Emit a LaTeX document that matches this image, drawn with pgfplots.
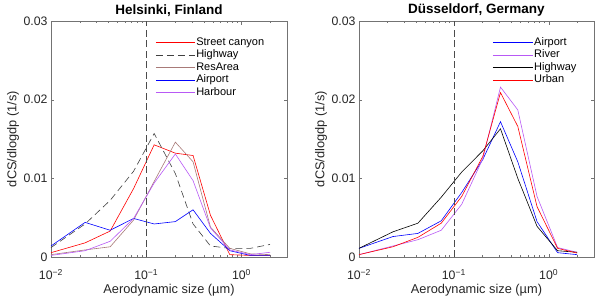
\documentclass[border=0pt]{standalone}
\usepackage{fontspec}
\setmainfont{Liberation Sans}
\usepackage{pgfplots}
\pgfplotsset{compat=1.18}
\definecolor{resbrown}{rgb}{0.66,0.48,0.47}
\definecolor{harb}{rgb}{0.72,0.35,0.96}
\definecolor{axgray}{rgb}{0.45,0.45,0.45}
\begin{document}
\begin{tikzpicture}
\begin{axis}[at={(0pt,0pt)}, anchor=south west, title={Helsinki, Finland},
 scale only axis, width=236pt, height=236pt,
 xmode=log, xmin=0.01, xmax=3, ymin=0, ymax=0.03, scaled y ticks=false,
 xtick={0.01,0.1,1}, xticklabels={10\textsuperscript{−2},10\textsuperscript{−1},10\textsuperscript{0}},
 minor xtick={0.02,0.03,0.04,0.05,0.06,0.07,0.08,0.09,0.2,0.3,0.4,0.5,0.6,0.7,0.8,0.9,2,3},
 ytick={0,0.01,0.02,0.03}, yticklabels={0,0.01,0.02,0.03},
 tick align=inside, major tick length=3.5pt, minor tick length=2pt,
 axis line style={axgray}, tick style={axgray},
 ticklabel style={font=\fontsize{12.3}{14}\selectfont, text=black!85},
 xticklabel style={yshift=-9pt},
 label style={font=\fontsize{12.8}{15}\selectfont, text=black!85},
 title style={font=\bfseries\fontsize{13.5}{16}\selectfont, yshift=-5pt},
 xlabel={Aerodynamic size (µm)}, ylabel={dCS/dlogdp (1/s)},
 xlabel style={at={([yshift=-33pt]axis description cs:0.5,0)}, anchor=center},
 ylabel style={at={([xshift=-38pt]axis description cs:0,0.5)}, anchor=center},
 legend style={draw=none, fill=none, font=\fontsize{11}{13}\selectfont, anchor=north west,
   nodes={inner sep=1pt, text height=8pt, text depth=2.5pt}, at={(rel axis cs:0.43,0.945)}},
 legend cell align=left,
 legend image code/.code={\draw[#1] (0pt,0pt) -- (39pt,0pt);},
 every axis plot/.append style={line width=0.6pt, mark=none}]
\addplot[red] coordinates {(0.01,0.00055) (0.0228,0.0018) (0.0418,0.0033) (0.0736,0.0087) (0.121,0.01426) (0.202,0.0132) (0.31,0.0129) (0.472,0.0053) (0.753,0.0003) (1.24,0.0002) (1.99,0.0002)};
\addlegendentry{Street canyon}
\addplot[black!75, dash pattern=on 7pt off 4pt] coordinates {(0.01,0.0012) (0.0228,0.0042) (0.0418,0.0072) (0.0736,0.0109) (0.121,0.0157) (0.202,0.0106) (0.31,0.0042) (0.472,0.0014) (0.753,0.0011) (1.24,0.0011) (1.99,0.0016)};
\addlegendentry{Highway}
\addplot[resbrown] coordinates {(0.01,0.0003) (0.0228,0.0009) (0.0418,0.0013) (0.0736,0.0047) (0.121,0.0096) (0.202,0.0146) (0.31,0.0121) (0.472,0.0038) (0.753,0.0011) (1.24,0.0004) (1.99,0.0003)};
\addlegendentry{ResArea}
\addplot[blue] coordinates {(0.01,0.0014) (0.0228,0.0044) (0.0418,0.0034) (0.0736,0.0049) (0.121,0.0042) (0.202,0.0045) (0.31,0.0060) (0.472,0.0030) (0.753,0.0008) (1.24,0.0002) (1.99,0.0002)};
\addlegendentry{Airport}
\addplot[harb] coordinates {(0.01,0.0002) (0.0228,0.0008) (0.0418,0.0020) (0.0736,0.0049) (0.121,0.0094) (0.202,0.0131) (0.31,0.0097) (0.472,0.0037) (0.753,0.0009) (1.24,0.0003) (1.99,0.0006)};
\addlegendentry{Harbour}
\addplot[black!70, dash pattern=on 7pt off 3.5pt, forget plot] coordinates {(0.1,0) (0.1,0.03)};
\end{axis}
\begin{axis}[at={(308pt,0pt)}, anchor=south west, title={Düsseldorf, Germany},
 scale only axis, width=235pt, height=236pt,
 xmode=log, xmin=0.01, xmax=3, ymin=0, ymax=0.03, scaled y ticks=false,
 xtick={0.01,0.1,1}, xticklabels={10\textsuperscript{−2},10\textsuperscript{−1},10\textsuperscript{0}},
 minor xtick={0.02,0.03,0.04,0.05,0.06,0.07,0.08,0.09,0.2,0.3,0.4,0.5,0.6,0.7,0.8,0.9,2,3},
 ytick={0,0.01,0.02,0.03}, yticklabels={0,0.01,0.02,0.03},
 tick align=inside, major tick length=3.5pt, minor tick length=2pt,
 axis line style={axgray}, tick style={axgray},
 ticklabel style={font=\fontsize{12.3}{14}\selectfont, text=black!85},
 xticklabel style={yshift=-9pt},
 label style={font=\fontsize{12.8}{15}\selectfont, text=black!85},
 title style={font=\bfseries\fontsize{13.5}{16}\selectfont, yshift=-5pt},
 xlabel={Aerodynamic size (µm)}, ylabel={dCS/dlogdp (1/s)},
 xlabel style={at={([yshift=-33pt]axis description cs:0.5,0)}, anchor=center},
 ylabel style={at={([xshift=-38pt]axis description cs:0,0.5)}, anchor=center},
 legend style={draw=none, fill=none, font=\fontsize{11}{13}\selectfont, anchor=north west,
   nodes={inner sep=1pt, text height=8pt, text depth=2.5pt}, at={(rel axis cs:0.555,0.945)}},
 legend cell align=left,
 legend image code/.code={\draw[#1] (0pt,0pt) -- (40pt,0pt);},
 every axis plot/.append style={line width=0.6pt, mark=none}]
\addplot[blue] coordinates {(0.01,0.0011) (0.0228,0.0026) (0.0418,0.0030) (0.0736,0.0046) (0.121,0.0082) (0.202,0.0124) (0.31,0.0172) (0.472,0.0121) (0.753,0.0045) (1.24,0.00055) (1.99,0.0003)};
\addlegendentry{Airport}
\addplot[harb] coordinates {(0.01,0.0003) (0.0228,0.0014) (0.0418,0.0022) (0.0736,0.0034) (0.121,0.0067) (0.202,0.0125) (0.31,0.0216) (0.472,0.0187) (0.753,0.0077) (1.24,0.0012) (1.99,0.0006)};
\addlegendentry{River}
\addplot[black] coordinates {(0.01,0.0011) (0.0228,0.0032) (0.0418,0.0043) (0.0736,0.0076) (0.121,0.0108) (0.202,0.0135) (0.31,0.0163) (0.472,0.0100) (0.753,0.0039) (1.24,0.0008) (1.99,0.0006)};
\addlegendentry{Highway}
\addplot[red] coordinates {(0.01,0.0003) (0.0228,0.0013) (0.0418,0.0025) (0.0736,0.0043) (0.121,0.0077) (0.202,0.0128) (0.31,0.0209) (0.472,0.0166) (0.753,0.0064) (1.24,0.0011) (1.99,0.0005)};
\addlegendentry{Urban}
\addplot[black!70, dash pattern=on 7pt off 3.5pt, forget plot] coordinates {(0.1,0) (0.1,0.03)};
\end{axis}
\pgfresetboundingbox
\path (-51pt,-44pt) rectangle (549pt,257pt);
\end{tikzpicture}
\end{document}
